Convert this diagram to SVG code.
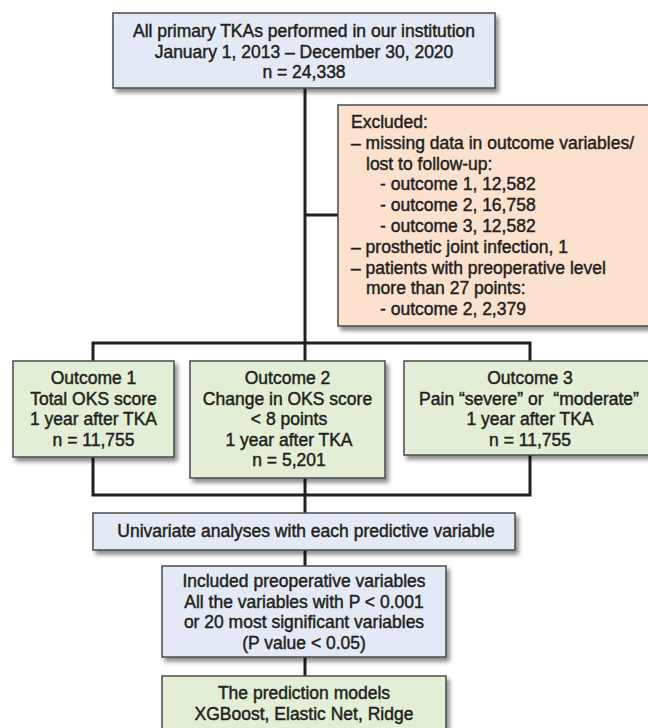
<svg xmlns="http://www.w3.org/2000/svg" width="648" height="728" viewBox="0 0 648 728">
<defs>
<filter id="sh" x="-10%" y="-10%" width="130%" height="140%">
<feDropShadow dx="3" dy="4" stdDeviation="2" flood-color="#000" flood-opacity="0.45"/>
</filter>
<style>
.box{stroke:#4a4a4a;stroke-width:1.5;filter:url(#sh)}
.blue{fill:#e4eaf5}
.peach{fill:#fde1cf}
.green{fill:#e2eed5}
text{font-family:"Liberation Sans",Arial,sans-serif;font-size:17.5px;fill:#231f20;stroke:#231f20;stroke-width:0.45}
.c{text-anchor:middle}
.ln{fill:none;stroke:#231f20;stroke-width:3}
</style>
</defs>
<rect width="648" height="728" fill="#fff"/>
<g id="connectors">
<path class="ln" d="M305,88 V361"/>
<path class="ln" d="M305,215 H338"/>
<path class="ln" d="M93,361 V343 H530 V361"/>
<path class="ln" d="M93,457 V495 H530 V455"/>
<path class="ln" d="M305,478 V513"/>
<path class="ln" d="M305,550 V566"/>
<path class="ln" d="M305,657 V676"/>
</g>
<g id="all-tkas">
<rect class="box blue" x="113" y="13" width="382" height="75"/>
<text class="c" x="304" y="37">All primary TKAs performed in our institution</text>
<text class="c" x="304" y="57.5">January 1, 2013 – December 30, 2020</text>
<text class="c" x="304" y="78">n = 24,338</text>
</g>
<g id="excluded">
<rect class="box peach" x="338" y="105" width="320" height="221"/>
<text x="351" y="128">Excluded:</text>
<text x="351" y="148.8">– missing data in outcome variables/</text>
<text x="366" y="169.6">lost to follow-up:</text>
<text x="380" y="190.4">- outcome 1, 12,582</text>
<text x="380" y="211.2">- outcome 2, 16,758</text>
<text x="380" y="232">- outcome 3, 12,582</text>
<text x="351" y="252.8">– prosthetic joint infection, 1</text>
<text x="351" y="273.6">– patients with preoperative level</text>
<text x="366" y="294.4">more than 27 points:</text>
<text x="380" y="315.2">- outcome 2, 2,379</text>
</g>
<g id="outcome1">
<rect class="box green" x="13" y="361" width="161" height="96"/>
<text class="c" x="93.5" y="384">Outcome 1</text>
<text class="c" x="93.5" y="404.5">Total OKS score</text>
<text class="c" x="93.5" y="425">1 year after TKA</text>
<text class="c" x="93.5" y="445.5">n = 11,755</text>
</g>
<g id="outcome2">
<rect class="box green" x="190" y="361" width="195" height="117"/>
<text class="c" x="287.5" y="384">Outcome 2</text>
<text class="c" x="287.5" y="404.5">Change in OKS score</text>
<text class="c" x="289" y="425">&lt; 8 points</text>
<text class="c" x="289" y="445.5">1 year after TKA</text>
<text class="c" x="289" y="466">n = 5,201</text>
</g>
<g id="outcome3">
<rect class="box green" x="404" y="361" width="252" height="94"/>
<text class="c" x="530" y="384">Outcome 3</text>
<text class="c" x="529" y="404.5">Pain “severe” or&#160; “moderate”</text>
<text class="c" x="530" y="425">1 year after TKA</text>
<text class="c" x="530" y="445.5">n = 11,755</text>
</g>
<g id="univariate">
<rect class="box blue" x="93" y="513" width="422" height="37"/>
<text class="c" x="306" y="537">Univariate analyses with each predictive variable</text>
</g>
<g id="included">
<rect class="box blue" x="162" y="566" width="284" height="91"/>
<text class="c" x="304" y="587">Included preoperative variables</text>
<text class="c" x="304" y="607.5">All the variables with P &lt; 0.001</text>
<text class="c" x="304" y="628">or 20 most significant variables</text>
<text class="c" x="304" y="648.5">(P value &lt; 0.05)</text>
</g>
<g id="models">
<rect class="box green" x="162" y="676" width="284" height="70"/>
<text class="c" x="304" y="699">The prediction models</text>
<text class="c" x="304" y="720">XGBoost, Elastic Net, Ridge</text>
</g>
</svg>
